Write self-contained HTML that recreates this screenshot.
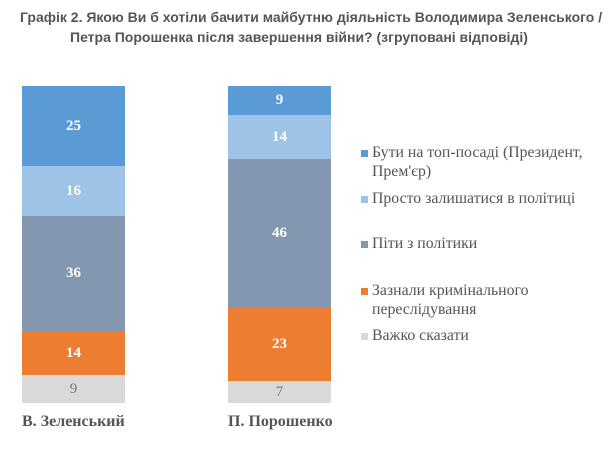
<!DOCTYPE html>
<html><head><meta charset="utf-8"><style>
body{margin:0;width:614px;height:462px;background:#fff;position:relative;overflow:hidden}
.t{position:absolute;white-space:nowrap;font:bold 14px "Liberation Sans",sans-serif;color:#555}
.s{position:absolute;color:#fff;font:bold 15px "Liberation Serif",serif;display:flex;align-items:center;justify-content:center}
.lg{position:absolute;left:372px;font:15.8px/19px "Liberation Serif",serif;color:#555;white-space:nowrap}
.sq{position:absolute;left:361px;width:7px;height:7px}
.cat{position:absolute;top:413px;font:bold 16px "Liberation Serif",serif;color:#555;white-space:nowrap}
</style></head><body>
<div class="t" style="top:9px;left:20px">Графік 2. Якою Ви б хотіли бачити майбутню діяльність Володимира Зеленського /</div>
<div class="t" style="top:29px;left:70px">Петра Порошенка після завершення війни? (згруповані відповіді)</div>

<div class="s" style="left:22px;width:103px;top:86px;height:80px;background:#5b9bd5">25</div>
<div class="s" style="left:22px;width:103px;top:166px;height:50px;background:#9dc3e6">16</div>
<div class="s" style="left:22px;width:103px;top:216px;height:115px;background:#8497b0">36</div>
<div class="s" style="left:22px;width:103px;top:331px;height:44px;background:#ed7d31">14</div>
<div class="s" style="left:22px;width:103px;top:375px;height:28px;background:#d9d9d9;color:#777;font-weight:normal">9</div>

<div class="s" style="left:228px;width:103px;top:86px;height:29px;background:#5b9bd5">9</div>
<div class="s" style="left:228px;width:103px;top:115px;height:44px;background:#9dc3e6">14</div>
<div class="s" style="left:228px;width:103px;top:159px;height:148px;background:#8497b0">46</div>
<div class="s" style="left:228px;width:103px;top:307px;height:74px;background:#ed7d31">23</div>
<div class="s" style="left:228px;width:103px;top:381px;height:22px;background:#d9d9d9;color:#777;font-weight:normal">7</div>

<div class="cat" style="left:22px">В. Зеленський</div>
<div class="cat" style="left:228px">П. Порошенко</div>

<div class="sq" style="top:150px;background:#5b9bd5"></div>
<div class="lg" style="top:143px">Бути на топ-посаді (Президент,<br>Прем'єр)</div>
<div class="sq" style="top:196px;background:#9dc3e6"></div>
<div class="lg" style="top:189px">Просто залишатися в політиці</div>
<div class="sq" style="top:241px;background:#8497b0"></div>
<div class="lg" style="top:234px">Піти з політики</div>
<div class="sq" style="top:288px;background:#ed7d31"></div>
<div class="lg" style="top:281px">Зазнали кримінального<br>переслідування</div>
<div class="sq" style="top:333px;background:#d9d9d9"></div>
<div class="lg" style="top:326px">Важко сказати</div>
</body></html>
